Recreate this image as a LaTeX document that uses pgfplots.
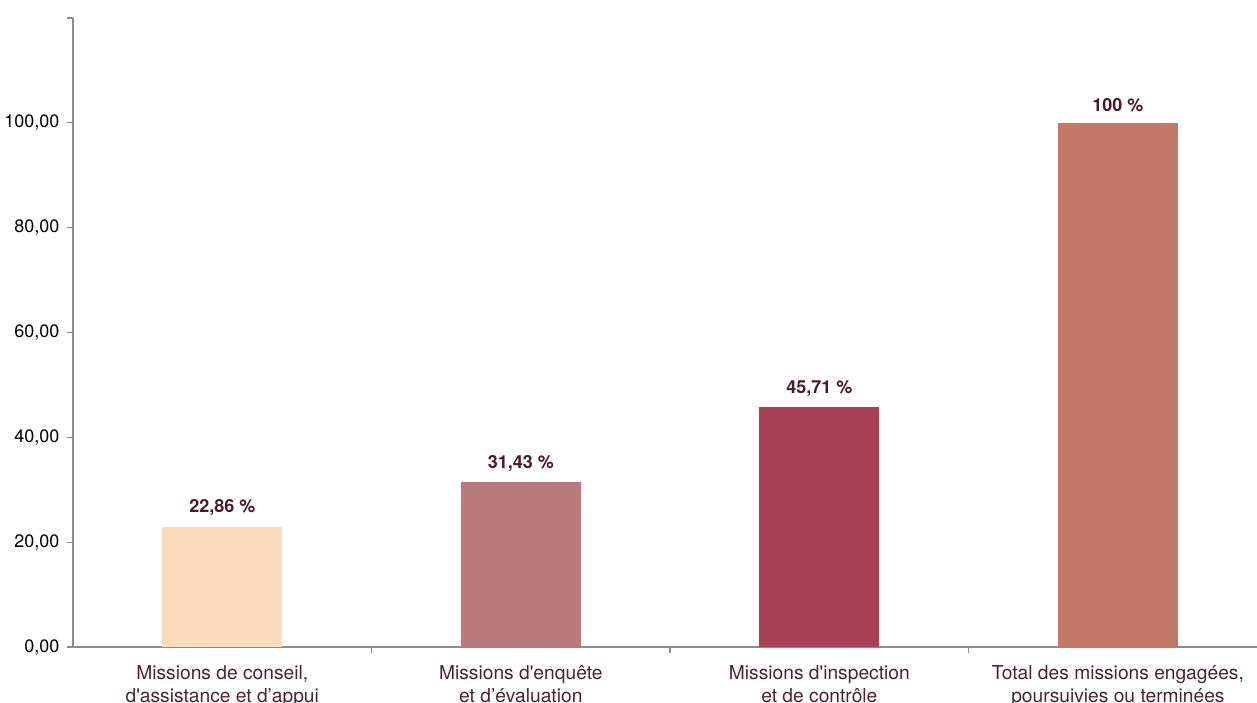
\documentclass[border=0pt]{standalone}
\usepackage{fontspec}
\setmainfont{TeX Gyre Heros}
\usepackage{pgfplots}
\pgfplotsset{compat=1.18}
\definecolor{cA}{HTML}{FADCBC}
\definecolor{cB}{HTML}{B9797D}
\definecolor{cC}{HTML}{A84254}
\definecolor{cD}{HTML}{C47868}
\definecolor{axgray}{HTML}{8C8C8C}
\definecolor{labcol}{HTML}{4B2330}
\definecolor{valcol}{HTML}{4A1A2C}
\begin{document}
\begin{tikzpicture}
\useasboundingbox (0,0) rectangle (628.5pt,351pt);
\clip (0,0) rectangle (628.5pt,351pt);
\begin{axis}[
  at={(36.5pt,27.5pt)}, anchor=south west,
  scale only axis, width=592pt, height=314.5pt,
  xmin=-0.5, xmax=3.466, ymin=0, ymax=120,
  axis x line=bottom, axis y line=left,
  axis line style={-, draw=axgray, line width=1pt},
  tick align=outside,
  major tick length=3pt,
  tick style={draw=axgray, line width=0.6pt},
  ytick={0,20,40,60,80,100},
  extra y ticks={120}, extra y tick labels={},
  yticklabel style={font=\fontsize{9}{10}\selectfont, text=black, xshift=-0.3pt,
    /pgf/number format/.cd, fixed, fixed zerofill, precision=2, use comma, assume math mode=true},
  xtick={0.5,1.5,2.5}, xticklabels={},
  extra x ticks={0,1,2,3},
  extra x tick labels={{Missions de conseil,\\d\textquotesingle assistance et d’appui},{Missions d\textquotesingle enquête\\et d’évaluation},{Missions d\textquotesingle inspection\\et de contrôle},{Total des missions engagées,\\poursuivies ou terminées}},
  extra x tick style={major tick length=0pt,
    tick label style={align=center, font=\fontsize{9.6}{11.5}\selectfont, text=labcol, yshift=-5.5pt}},
  ybar, bar width=60pt, bar shift=0pt,
  nodes near coords style={font=\fontsize{9}{10}\selectfont\bfseries, text=valcol, yshift=2pt},
  clip=false,
]
\addplot[fill=cA, draw=none, nodes near coords={22,86 \%}] coordinates {(0,22.86)};
\addplot[fill=cB, draw=none, nodes near coords={31,43 \%}] coordinates {(1,31.43)};
\addplot[fill=cC, draw=none, nodes near coords={45,71 \%}] coordinates {(2,45.71)};
\addplot[fill=cD, draw=none, nodes near coords={100 \%}] coordinates {(3,100)};
\end{axis}
\end{tikzpicture}
\end{document}
